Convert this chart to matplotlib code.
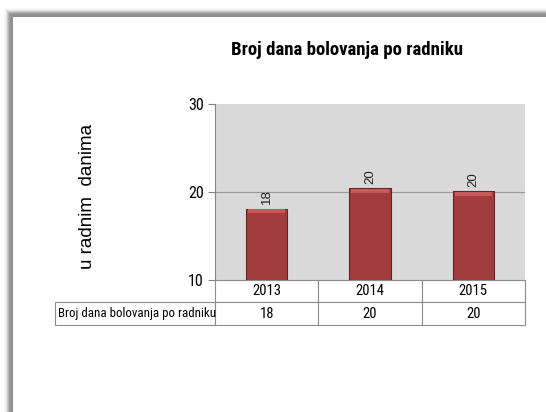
import os
import matplotlib
matplotlib.use("Agg")
from matplotlib import pyplot as plt
from matplotlib import font_manager
from matplotlib.font_manager import FontProperties
from matplotlib.lines import Line2D
from matplotlib.patches import Rectangle

# data
years = ["2013", "2014", "2015"]
values = [18.1, 20.4, 20.1]
value_labels = ["18", "20", "20"]
row_label = "Broj dana bolovanja po radniku"
title = "Broj dana bolovanja po radniku"
ylabel = "u radnim  danima"
yticks = [10, 20, 30]

files = {os.path.basename(f.fname): f.fname for f in font_manager.fontManager.ttflist}

def pick(cands):
    for c in cands:
        if c in files:
            return files[c]
    return None

reg_file = pick(["LiberationSansNarrow-Regular.ttf", "RobotoCondensed-Regular.ttf",
                 "PTSansNarrow-Regular.ttf", "ArchivoNarrow[wght].ttf",
                 "DejaVuSansCondensed.ttf"])
bold_file = pick(["LiberationSansNarrow-Bold.ttf", "RobotoCondensed-Bold.ttf",
                  "PTSansNarrow-Bold.ttf", "DejaVuSansCondensed-Bold.ttf"])

def narrow(size, bold=False):
    f = bold_file if bold else reg_file
    if f:
        return FontProperties(fname=f, size=size)
    return FontProperties(family="Liberation Sans", size=size,
                          weight="bold" if bold else "normal")

W, H = 546, 412
fig = plt.figure(figsize=(W / 100, H / 100), dpi=100)

# frame with soft shadow (pixel coords -> figure coords)
def px(x, y):
    return x / W, 1 - y / H

x_in, y_in = 12.5, 16.0
shades = [0.56, 0.56, 0.58, 0.62, 0.70, 0.80, 0.89, 0.95, 0.98]
for k, g in enumerate(shades):
    d = k + 0.5
    xs = [x_in - d, x_in - d, W + 10]
    ys = [H + 10, y_in - d, y_in - d]
    fx = [px(a, b)[0] for a, b in zip(xs, ys)]
    fy = [px(a, b)[1] for a, b in zip(xs, ys)]
    fig.add_artist(Line2D(fx, fy, color=str(g), lw=0.75, solid_joinstyle="miter"))

ax = fig.add_axes([215 / W, 1 - 280 / H, 310 / W, 176 / H])
ax.set_facecolor("#d9d9d9")

x = range(len(years))
ax.bar(x, values, width=0.4, color="#a03c3c", edgecolor="#6a2424", linewidth=0.8, zorder=3)
# light bevel on top of each bar
ax.bar(x, [0.45] * len(values), bottom=[v - 0.5 for v in values], width=0.36,
       color="#c65a5a", linewidth=0, zorder=4)

for i, v in enumerate(values):
    ax.text(i, v + 0.5, value_labels[i], rotation=90, ha="center", va="bottom",
            fontsize=9.5, family="Liberation Sans", color="#222222")

ax.set_xlim(-0.5, len(years) - 0.5)
ax.set_ylim(10, 30)
ax.set_yticks(yticks)
ax.set_yticklabels([str(t) for t in yticks], fontproperties=narrow(11.5))
ax.set_xticks([])
ax.tick_params(axis="y", direction="out", length=5, color="#868686", pad=3)
ax.grid(axis="y", color="#9a9a9a", lw=0.8, zorder=1)
ax.get_ygridlines()[-1].set_visible(False)
ax.get_ygridlines()[0].set_visible(False)
for s in ["top", "right", "bottom"]:
    ax.spines[s].set_visible(False)
ax.spines["left"].set_color("#868686")
ax.spines["left"].set_linewidth(0.8)

# data table under the axes (axes coords)
row_h = 0.1278
lab_w = 0.516
col_w = 1 / len(years)
cell_kw = dict(transform=ax.transAxes, clip_on=False, facecolor="white",
               edgecolor="#8c8c8c", linewidth=0.8)
ax.add_patch(Rectangle((-lab_w, -2 * row_h), lab_w, row_h, **cell_kw))
for j, yr in enumerate(years):
    ax.add_patch(Rectangle((j * col_w, -row_h), col_w, row_h, **cell_kw))
    ax.add_patch(Rectangle((j * col_w, -2 * row_h), col_w, row_h, **cell_kw))
    ax.text((j + 0.5) * col_w, -0.5 * row_h, yr, transform=ax.transAxes,
            ha="center", va="center", fontproperties=narrow(10.5))
    ax.text((j + 0.5) * col_w, -1.5 * row_h, value_labels[j], transform=ax.transAxes,
            ha="center", va="center", fontproperties=narrow(10.5))
ax.text(-lab_w + 0.01, -1.5 * row_h, row_label, transform=ax.transAxes,
        ha="left", va="center", fontproperties=narrow(9.3))

fig.text(347 / W, 1 - 50 / H, title, ha="center", va="center",
         fontproperties=narrow(13.5, bold=True))
fig.text(87 / W, 1 - 196 / H, ylabel, rotation=90, ha="center", va="center",
         fontsize=13.5, family="Liberation Sans")

fig.savefig("out.png", dpi=100)
